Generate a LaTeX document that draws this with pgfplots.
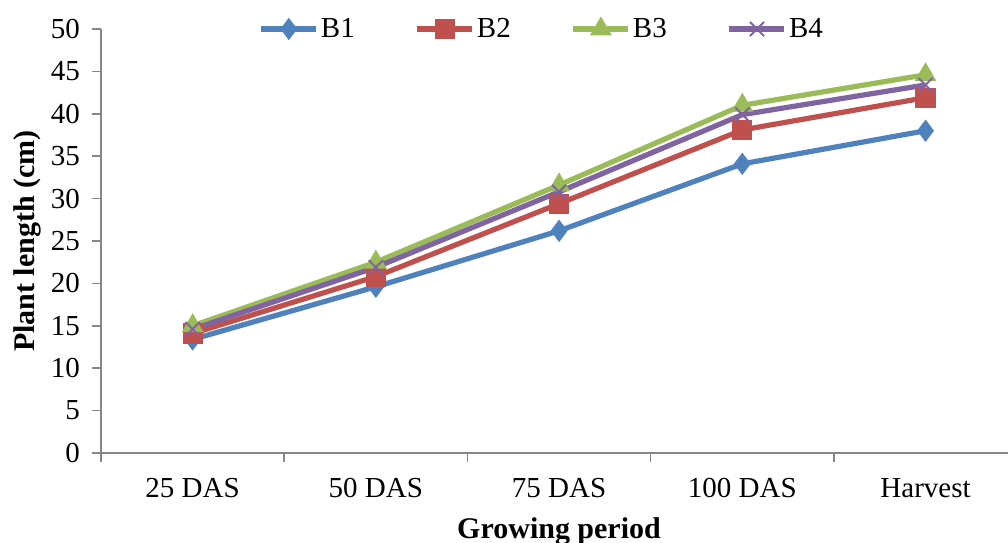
\documentclass[border=0pt]{standalone}
\usepackage{fontspec}
\setmainfont{Liberation Serif}
\usepackage{pgfplots}
\pgfplotsset{compat=1.18}
\definecolor{cB1}{HTML}{4F81BD}
\definecolor{cB2}{HTML}{C0504D}
\definecolor{cB3}{HTML}{9BBB59}
\definecolor{cB4}{HTML}{8064A2}
\definecolor{axgray}{HTML}{868686}
\begin{document}
\begin{tikzpicture}
\begin{axis}[name=ax, scale only axis, width=453.5pt, height=212pt,
  xmin=-0.5, xmax=4.45, ymin=0, ymax=50,
  ytick={0,5,...,50},
  xtick={-0.5,0.5,1.5,2.5,3.5}, xticklabels={},
  extra x ticks={0,1,2,3,4},
  extra x tick labels={25 DAS,50 DAS,75 DAS,100 DAS,Harvest},
  extra x tick style={major tick length=0pt, grid=none},
  axis x line*=bottom, axis y line*=left,
  axis line style={draw=axgray, line width=0.75pt},
  tick align=outside, major tick length=4.5pt,
  tick style={draw=axgray, line width=0.75pt},
  tick label style={font=\fontsize{14.5}{16}\selectfont},
  /pgf/number format/assume math mode=true,
  xticklabel style={yshift=-9pt},
  yticklabel style={xshift=-2.5pt},
  ylabel={\textbf{Plant length (cm)}},
  xlabel={\textbf{Growing period}},
  label style={font=\fontsize{15}{17}\selectfont},
  ylabel style={at={(axis description cs:-0.0816,0.5)}, anchor=center, rotate=0},
  xlabel style={at={(axis description cs:0.505,0)}, anchor=center, yshift=-39pt},
  legend style={at={(rel axis cs:0.486,1.0)}, anchor=center, draw=none, fill=none,
    legend columns=4, font=\fontsize{14.5}{16}\selectfont,
    /tikz/every even column/.append style={column sep=29pt},
    nodes={inner sep=1pt}},
  legend image code/.code={\draw[mark repeat=2,mark phase=2] plot coordinates {(0pt,0pt) (13.75pt,0pt) (27.5pt,0pt)};},
  every axis plot/.append style={line width=2.6pt},
  clip=false,
]
\addplot[color=cB1, mark=diamond*, mark size=5.2pt, mark options={solid, line width=0.5pt}] coordinates {(0,13.4) (1,19.6) (2,26.2) (3,34.1) (4,38.0)};
\addlegendentry{B1}
\addplot[color=cB2, mark=square*, mark size=4.8pt, mark options={solid, line width=0.5pt}] coordinates {(0,14.1) (1,20.8) (2,29.4) (3,38.1) (4,41.9)};
\addlegendentry{B2}
\addplot[color=cB3, mark=triangle*, mark size=5.8pt, mark options={solid, line width=0.5pt}] coordinates {(0,15.0) (1,22.5) (2,31.6) (3,41.0) (4,44.6)};
\addlegendentry{B3}
\addplot[color=cB4, mark=x, mark size=5pt, mark options={solid, line width=1pt}] coordinates {(0,14.6) (1,21.9) (2,30.8) (3,39.9) (4,43.4)};
\addlegendentry{B4}
\end{axis}
\pgfresetboundingbox
\path ([xshift=-50.5pt,yshift=-44.5pt]ax.south west) rectangle ([yshift=14.5pt]ax.north east);
\end{tikzpicture}
\end{document}
